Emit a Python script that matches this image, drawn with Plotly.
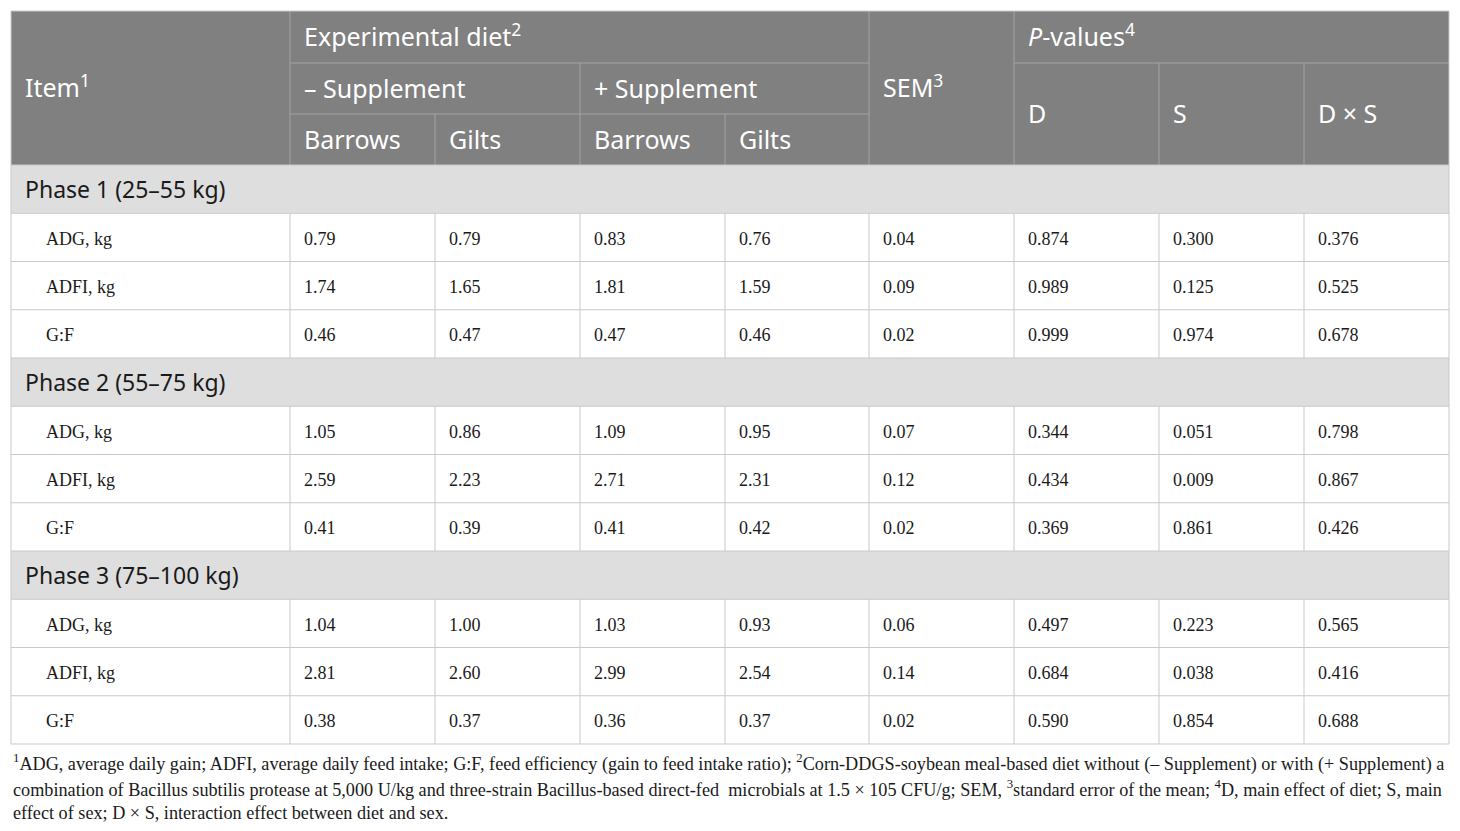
import plotly.graph_objects as go

# 表格数据
phases = ["Phase 1 (25–55 kg)", "Phase 2 (55–75 kg)", "Phase 3 (75–100 kg)"]
items = ["ADG, kg", "ADFI, kg", "G:F"]

minus_barrows = ["0.79", "1.74", "0.46", "1.05", "2.59", "0.41", "1.04", "2.81", "0.38"]
minus_gilts = ["0.79", "1.65", "0.47", "0.86", "2.23", "0.39", "1.00", "2.60", "0.37"]
plus_barrows = ["0.83", "1.81", "0.47", "1.09", "2.71", "0.41", "1.03", "2.99", "0.36"]
plus_gilts = ["0.76", "1.59", "0.46", "0.95", "2.31", "0.42", "0.93", "2.54", "0.37"]
sem = ["0.04", "0.09", "0.02", "0.07", "0.12", "0.02", "0.06", "0.14", "0.02"]
p_d = ["0.874", "0.989", "0.999", "0.344", "0.434", "0.369", "0.497", "0.684", "0.590"]
p_s = ["0.300", "0.125", "0.974", "0.051", "0.009", "0.861", "0.223", "0.038", "0.854"]
p_dxs = ["0.376", "0.525", "0.678", "0.798", "0.867", "0.426", "0.565", "0.416", "0.688"]

footnotes = [
    "<sup>1</sup>ADG, average daily gain; ADFI, average daily feed intake; G:F, feed efficiency (gain to feed intake ratio); "
    "<sup>2</sup>Corn-DDGS-soybean meal-based diet without (– Supplement) or with (+ Supplement) a",
    "combination of Bacillus subtilis protease at 5,000 U/kg and three-strain Bacillus-based direct-fed  microbials at "
    "1.5 × 105 CFU/g; SEM, <sup>3</sup>standard error of the mean; <sup>4</sup>D, main effect of diet; S, main",
    "effect of sex; D × S, interaction effect between diet and sex.",
]

# 版式（像素坐标，页面body有8px边距）
W, H = 1460, 831
OFF = 8
DY = 3  # 文字基线微调
col_x = [11, 290, 435, 580, 725, 869, 1014, 1159, 1304, 1449]
head_y = [11, 63, 114, 165]
row_h = (744 - 165) / 12
body_y = [165 + i * row_h for i in range(13)]

HEAD_BG = "#808080"
PHASE_BG = "#dedede"
GRID = "#c9c9c9"
HEAD_GRID = "#a3a3a3"
SANS = "Noto Sans"
SERIF = "Liberation Serif"

fig = go.Figure()
shapes = []

# 表头背景
shapes.append(dict(type="rect", x0=col_x[0], x1=col_x[-1], y0=head_y[0], y1=head_y[3],
                   fillcolor=HEAD_BG, line_width=0, layer="below"))
# 分组行背景
for k in range(len(phases)):
    r = k * 4
    shapes.append(dict(type="rect", x0=col_x[0], x1=col_x[-1], y0=body_y[r], y1=body_y[r + 1],
                       fillcolor=PHASE_BG, line_width=0, layer="below"))

def hline(x0, x1, y, color):
    shapes.append(dict(type="line", x0=x0, x1=x1, y0=y, y1=y, line=dict(color=color, width=1)))

def vline(x, y0, y1, color):
    shapes.append(dict(type="line", x0=x, x1=x, y0=y0, y1=y1, line=dict(color=color, width=1)))

# 表头内部线
hline(col_x[1], col_x[5], head_y[1], HEAD_GRID)
hline(col_x[6], col_x[9], head_y[1], HEAD_GRID)
hline(col_x[1], col_x[5], head_y[2], HEAD_GRID)
vline(col_x[1], head_y[0], head_y[3], HEAD_GRID)
vline(col_x[5], head_y[0], head_y[3], HEAD_GRID)
vline(col_x[6], head_y[0], head_y[3], HEAD_GRID)
vline(col_x[3], head_y[1], head_y[3], HEAD_GRID)
vline(col_x[2], head_y[2], head_y[3], HEAD_GRID)
vline(col_x[4], head_y[2], head_y[3], HEAD_GRID)
vline(col_x[7], head_y[1], head_y[3], HEAD_GRID)
vline(col_x[8], head_y[1], head_y[3], HEAD_GRID)

# 表体网格
for y in body_y:
    hline(col_x[0], col_x[-1], y, GRID)
for i in range(12):
    if i % 4 == 0:
        continue
    for x in col_x[1:-1]:
        vline(x, body_y[i], body_y[i + 1], GRID)
vline(col_x[0], head_y[0], body_y[-1], GRID)
vline(col_x[-1], head_y[0], body_y[-1], GRID)
hline(col_x[0], col_x[-1], head_y[0], GRID)

# 表头文字
hx, hy, ht = [], [], []
def head(text, c, y):
    hx.append(col_x[c] + 14)
    hy.append(y + DY)
    ht.append(text)

head("Item<sup>1</sup>", 0, (head_y[0] + head_y[3]) / 2)
head("Experimental diet<sup>2</sup>", 1, (head_y[0] + head_y[1]) / 2)
head("– Supplement", 1, (head_y[1] + head_y[2]) / 2)
head("+ Supplement", 3, (head_y[1] + head_y[2]) / 2)
for c, t in zip([1, 2, 3, 4], ["Barrows", "Gilts", "Barrows", "Gilts"]):
    head(t, c, (head_y[2] + head_y[3]) / 2)
head("SEM<sup>3</sup>", 5, (head_y[0] + head_y[3]) / 2)
head("<i>P</i>-values<sup>4</sup>", 6, (head_y[0] + head_y[1]) / 2)
for c, t in zip([6, 7, 8], ["D", "S", "D × S"]):
    head(t, c, (head_y[1] + head_y[3]) / 2)

fig.add_trace(go.Scatter(x=hx, y=hy, text=ht, mode="text", textposition="middle right",
                         textfont=dict(family=SANS, size=25, color="white"), hoverinfo="skip"))

# 分组行文字
fig.add_trace(go.Scatter(
    x=[col_x[0] + 14] * len(phases),
    y=[(body_y[k * 4] + body_y[k * 4 + 1]) / 2 + DY for k in range(len(phases))],
    text=phases, mode="text", textposition="middle right",
    textfont=dict(family=SANS, size=23, color="#1a1a1a"), hoverinfo="skip"))

# 数据行文字
columns = [minus_barrows, minus_gilts, plus_barrows, plus_gilts, sem, p_d, p_s, p_dxs]
bx, by, bt = [], [], []
for k in range(len(phases)):
    for j, item in enumerate(items):
        r = k * 4 + 1 + j
        yc = (body_y[r] + body_y[r + 1]) / 2 + DY
        bx.append(col_x[0] + 35)
        by.append(yc)
        bt.append(item)
        for c, col in enumerate(columns):
            bx.append(col_x[c + 1] + 14)
            by.append(yc)
            bt.append(col[k * 3 + j])

fig.add_trace(go.Scatter(x=bx, y=by, text=bt, mode="text", textposition="middle right",
                         textfont=dict(family=SERIF, size=18, color="#1a1a1a"), hoverinfo="skip"))

# 脚注
for i, line in enumerate(footnotes):
    fig.add_annotation(x=col_x[0], y=763 + i * 25, xref="x", yref="y", text=line,
                       showarrow=False, xanchor="left", yanchor="middle",
                       font=dict(family=SERIF, size=18.2, color="#1a1a1a"))

fig.update_layout(
    width=W - OFF, height=H - OFF,
    margin=dict(l=0, r=0, t=0, b=0),
    paper_bgcolor="white", plot_bgcolor="white",
    showlegend=False,
    shapes=shapes,
    xaxis=dict(range=[OFF, W], visible=False, fixedrange=True),
    yaxis=dict(range=[H, OFF], visible=False, fixedrange=True),
)

fig.write_html("out.html")
